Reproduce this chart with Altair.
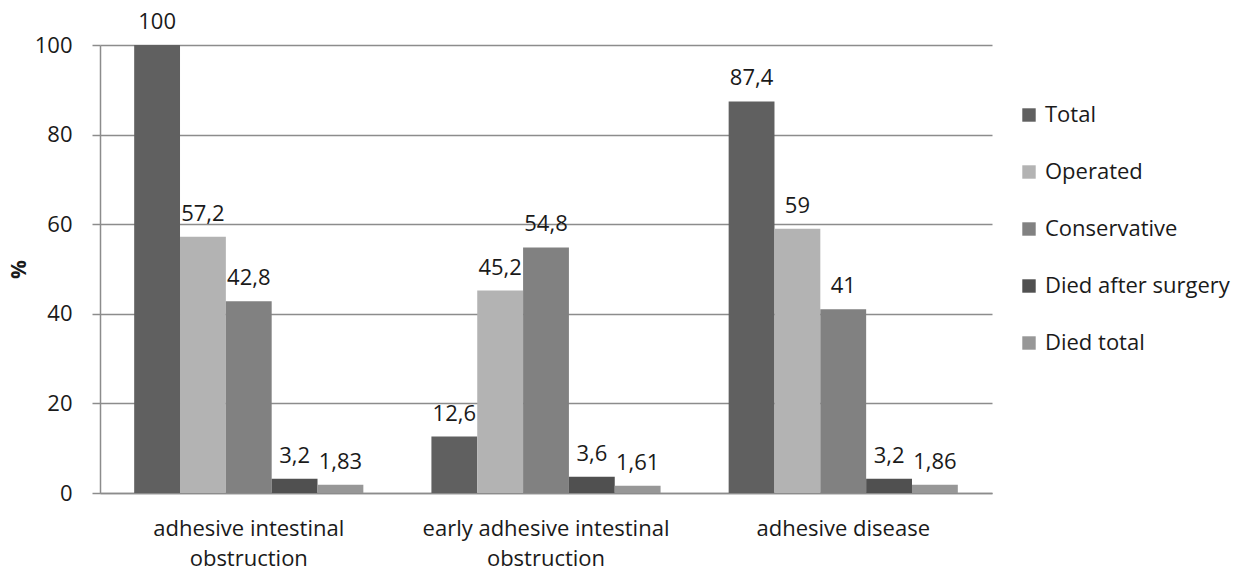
import altair as alt
import pandas as pd

categories = [
    "adhesive intestinal obstruction",
    "early adhesive intestinal obstruction",
    "adhesive disease",
]
series = ["Total", "Operated", "Conservative", "Died after surgery", "Died total"]
colors = ["#606060", "#b3b3b3", "#818181", "#505050", "#979797"]

total = [100, 12.6, 87.4]
operated = [57.2, 45.2, 59]
conservative = [42.8, 54.8, 41]
died_after_surgery = [3.2, 3.6, 3.2]
died_total = [1.83, 1.61, 1.86]

values = [total, operated, conservative, died_after_surgery, died_total]
rows = []
for s, vals in zip(series, values):
    for c, v in zip(categories, vals):
        rows.append({"category": c, "series": s, "value": v})
df = pd.DataFrame(rows)

FONT = "Open Sans"
TEXT = "#1a1a1a"
LINE = "#8c8c8c"

label_expr = (
    "datum.value == 'adhesive intestinal obstruction' ? ['adhesive intestinal', 'obstruction'] : "
    "datum.value == 'early adhesive intestinal obstruction' ? ['early adhesive intestinal', 'obstruction'] : "
    "datum.value"
)

x = alt.X(
    "category:N",
    sort=categories,
    title=None,
    scale=alt.Scale(paddingInner=0.229, paddingOuter=0.115),
    axis=alt.Axis(
        labelAngle=0,
        labelExpr=label_expr,
        labelFontSize=22,
        labelFont=FONT,
        labelColor=TEXT,
        labelPadding=25,
        labelLineHeight=30,
        labelLimit=0,
        ticks=False,
        domainColor=LINE,
        domainWidth=1.5,
        grid=False,
    ),
)
xoff = alt.XOffset("series:N", sort=series, scale=alt.Scale(paddingInner=0, paddingOuter=0))
y = alt.Y(
    "value:Q",
    title="%",
    scale=alt.Scale(domain=[0, 100], nice=False),
    axis=alt.Axis(
        values=[0, 20, 40, 60, 80, 100],
        labelFontSize=22,
        labelFont=FONT,
        labelColor=TEXT,
        labelPadding=20,
        tickSize=8,
        tickColor=LINE,
        tickWidth=1.5,
        domainColor=LINE,
        domainWidth=1.5,
        gridColor=LINE,
        gridWidth=1.5,
        titleFontSize=21,
        titleFont=FONT,
        titleFontWeight="bold",
        titleColor=TEXT,
        titleAngle=270,
        titleX=-71,
        titleY=224,
        titleAlign="center",
        titleBaseline="bottom",
    ),
)

base = alt.Chart(df).encode(x=x, xOffset=xoff, y=y)

bars = base.mark_bar().encode(
    color=alt.Color(
        "series:N",
        sort=series,
        scale=alt.Scale(domain=series, range=colors),
        legend=alt.Legend(
            title=None,
            orient="none",
            legendX=918,
            legendY=59,
            labelFontSize=22,
            labelFont=FONT,
            labelColor=TEXT,
            labelLimit=0,
            symbolType="square",
            symbolSize=180,
            symbolStrokeWidth=0,
            rowPadding=35,
            labelOffset=5,
        ),
    )
)

labels = base.transform_calculate(
    txt="replace(toString(datum.value), '.', ',')"
).mark_text(baseline="bottom", dy=-11, fontSize=22, font=FONT, color=TEXT).encode(
    text="txt:N"
)

chart = (
    alt.layer(bars, labels)
    .properties(
        width=892,
        height=448,
        padding={"left": 100, "top": 45, "right": 251, "bottom": 79},
        autosize=alt.AutoSizeParams(type="none"),
    )
    .configure_view(stroke=None)
    .configure_axisY(grid=True)
)

chart.save("out.html", embed_options={"renderer": "svg", "actions": False})
